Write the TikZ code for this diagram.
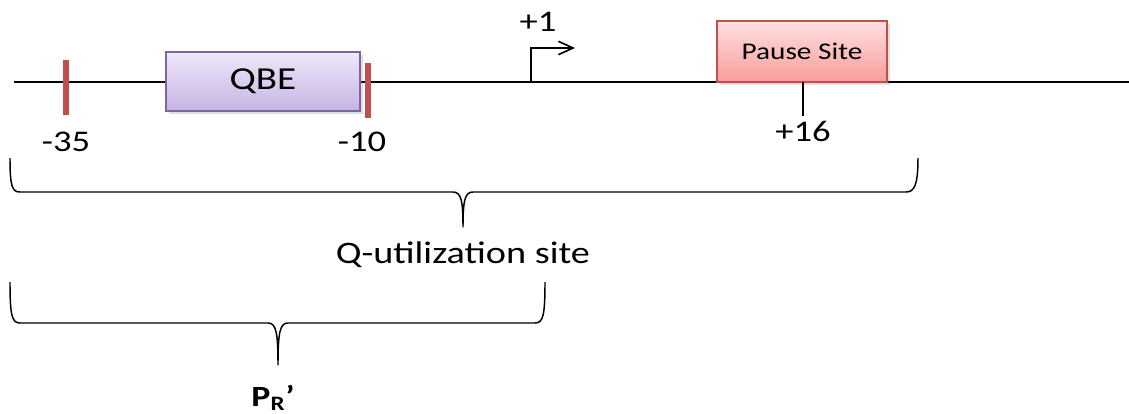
\documentclass[tikz,border=0pt]{standalone}
\usepackage{fontspec}
\setmainfont{Carlito}[FakeStretch=1.22]
\usetikzlibrary{arrows.meta,shadows}
\definecolor{tickred}{RGB}{192,80,77}
\definecolor{qbeborder}{RGB}{128,100,162}
\definecolor{qbetop}{RGB}{238,232,248}
\definecolor{qbebot}{RGB}{198,180,228}
\definecolor{pausetop}{RGB}{255,224,224}
\definecolor{pausebot}{RGB}{248,156,156}
\tikzset{
  dna/.style={line width=1.3pt, black},
  sitetick/.style={line width=4.5pt, tickred},
  marktick/.style={line width=1.3pt, black},
  bracket/.style={line width=1.1pt, black, line join=round},
  elementbox/.style={draw, line width=1.1pt, drop shadow={opacity=0.25, shadow xshift=2pt, shadow yshift=-2pt}},
  numlabel/.style={font=\fontsize{22.5}{25}\selectfont, inner sep=0pt},
}
\begin{document}
\begin{tikzpicture}[x=0.75pt, y=-0.75pt]
\useasboundingbox (0,0) rectangle (1129,414);

% DNA strand
\coordinate (dnaL) at (14,82);
\coordinate (dnaR) at (1129,82);
\draw[dna] (dnaL) -- (dnaR);

% -35 and -10 marks
\coordinate (m35top) at (66,60);
\coordinate (m35bot) at (66,115);
\coordinate (m10top) at (368,63);
\coordinate (m10bot) at (368,118);
\draw[sitetick] (m35top) -- (m35bot);

% QBE element
\node[elementbox, qbeborder, top color=qbetop, bottom color=qbebot,
      minimum width=145.5pt, minimum height=44.25pt, text=black,
      font=\fontsize{24}{27}\selectfont] (qbe) at (263,81.5) {QBE};
\draw[sitetick] (m10top) -- (m10bot);

% Pause site and +16 mark
\node[elementbox, tickred, top color=pausetop, bottom color=pausebot,
      minimum width=127.5pt, minimum height=45.75pt, text=black,
      font=\fontsize{18}{21}\selectfont] (pause) at (802,51.5) {Pause Site};
\coordinate (m16top) at (803,82);
\coordinate (m16bot) at (803,116);
\draw[marktick] (m16top) -- (m16bot);

% Transcription start
\coordinate (tss) at (531,82);
\coordinate (tssend) at (575,48);
\draw[marktick, -{Straight Barb[length=11pt, width=10pt, line width=1.2pt]}] (tss) |- (tssend);

% Position labels
\node[numlabel] (lplus1) at (538,22) {+1};
\node[numlabel] (lm35) at (66,142) {-35};
\node[numlabel] (lm10) at (362,142) {-10};
\node[numlabel] (lp16) at (803,131) {+16};

% Brace under the Q-utilization site
\coordinate (b1l) at (10,158);
\coordinate (b1r) at (918,158);
\coordinate (b1tip) at (463,227);
\draw[bracket] (b1l) .. controls (10,186) and (12,192) .. (20,192) -- (453,192)
  .. controls (461,192) and (463,200) .. (b1tip)
  .. controls (463,200) and (465,192) .. (473,192) -- (906,192)
  .. controls (914,192) and (918,186) .. (b1r);
\node[font=\fontsize{23.5}{26}\selectfont, inner sep=0pt] (qsite) at (463,255) {Q-utilization site};

% Brace under the PR' promoter
\coordinate (b2l) at (10,282);
\coordinate (b2r) at (545,282);
\coordinate (b2tip) at (278,365);
\draw[bracket] (b2l) .. controls (10,316) and (12,323) .. (20,323) -- (268,323)
  .. controls (276,323) and (278,332) .. (b2tip)
  .. controls (278,332) and (280,323) .. (288,323) -- (535,323)
  .. controls (543,323) and (545,316) .. (b2r);
\node[font=\fontsize{22}{25}\selectfont\bfseries, inner sep=0pt] (pr) at (273,398) {P\textsubscript{R}’};
\end{tikzpicture}
\end{document}
